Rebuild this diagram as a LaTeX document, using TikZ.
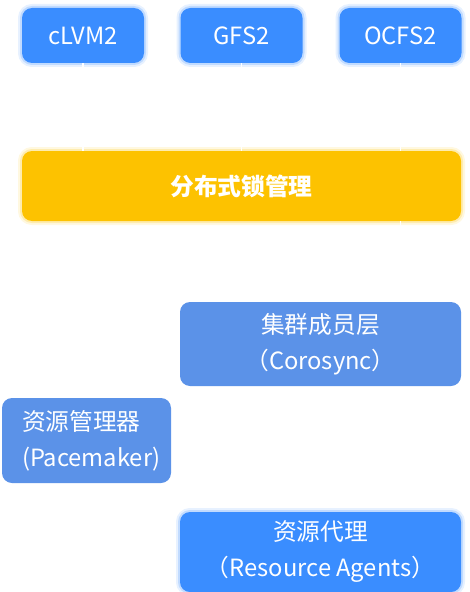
\documentclass[tikz,border=0pt]{standalone}
\usepackage{fontspec}
\usepackage{tikz}
\setmainfont{Noto Sans CJK SC}
\definecolor{azul}{RGB}{58,141,255}
\definecolor{azulclaro}{RGB}{91,146,232}
\definecolor{amarillo}{RGB}{253,194,0}

\begin{document}
\begin{tikzpicture}[
  x=0.75pt, y=-0.75pt,
  caja/.style={rectangle, rounded corners=7.5pt, inner sep=0pt, text=white,
    font=\fontsize{17.8}{27}\selectfont, align=center},
  brillo/.style={preaction={draw=#1, draw opacity=0.12, line width=6pt},
    preaction={draw=#1, draw opacity=0.22, line width=3pt}},
  enlace/.style={draw=white, line width=1pt}
]
\useasboundingbox (0,0) rectangle (470,592);

\node[caja, fill=azul, brillo=azul, minimum width=91.5pt, minimum height=41.25pt] (clvm) at (83,35.5) {cLVM2};
\node[caja, fill=azul, brillo=azul, minimum width=91.5pt, minimum height=41.25pt] (gfs) at (241.5,35.5) {GFS2};
\node[caja, fill=azul, brillo=azul, minimum width=91.5pt, minimum height=41.25pt] (ocfs) at (400.5,35.5) {OCFS2};
\node[caja, fill=amarillo, brillo=amarillo, minimum width=329.25pt, minimum height=52.5pt,
  font=\fontsize{17.8}{27}\selectfont\bfseries] (bloqueo) at (241.5,186) {分布式锁管理};
\node[caja, fill=azulclaro, minimum width=210.75pt, minimum height=63pt] (corosync) at (320.5,344) {集群成员层\\（Corosync）};
\node[caja, fill=azulclaro, text width=96.75pt, inner xsep=15pt, minimum height=63.75pt, align=left] (pacemaker) at (86.5,440.5) {资源管理器\\(Pacemaker)};
\node[caja, fill=azul, brillo=azul, minimum width=210.75pt, minimum height=60pt] (agentes) at (320.5,552) {资源代理\\（Resource Agents）};

\draw[enlace] (clvm.south) -- (clvm |- bloqueo.north);
\draw[enlace] (gfs.south) -- (gfs |- bloqueo.north);
\draw[enlace] (ocfs.south) -- (ocfs |- bloqueo.north);
\draw[enlace] (bloqueo.south -| ocfs) -- (corosync.north -| ocfs);
\end{tikzpicture}
\end{document}
